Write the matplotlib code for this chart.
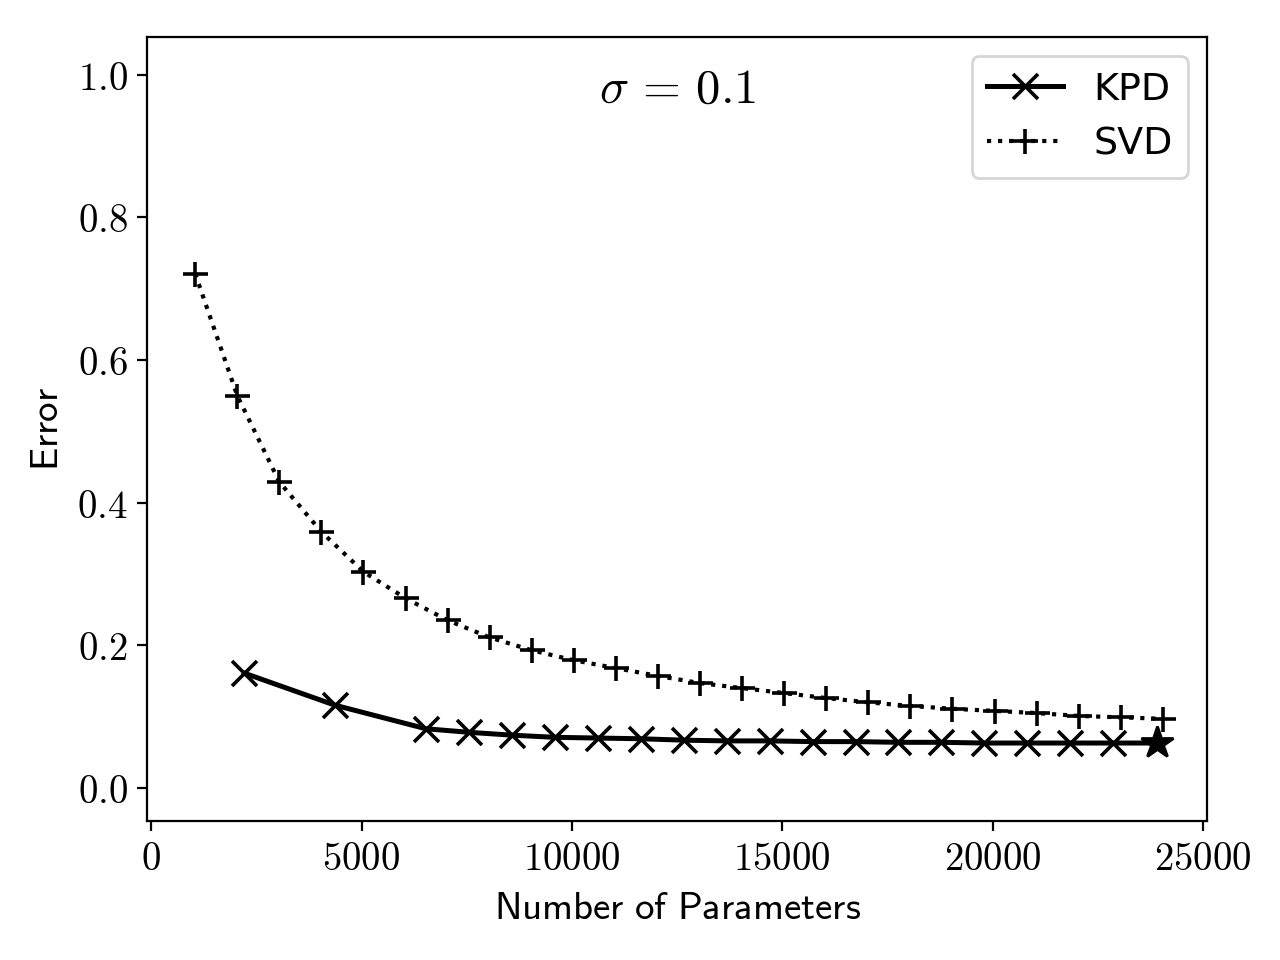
import numpy as np
import matplotlib
matplotlib.use("Agg")
import matplotlib.pyplot as plt

plt.rcParams['mathtext.fontset'] = 'cm'

# KPD: error vs number of parameters (last point gets the star)
kpd_params = [2210, 4370, 6530, 7560, 8580, 9600, 10620, 11640, 12660, 13680,
              14700, 15720, 16740, 17760, 18780, 19800, 20820, 21840, 22860, 23900]
kpd_error = [0.161, 0.116, 0.083, 0.078, 0.074, 0.071, 0.070, 0.069, 0.067, 0.066,
             0.066, 0.065, 0.065, 0.064, 0.064, 0.063, 0.063, 0.063, 0.063, 0.063]

# SVD
svd_params = [1045, 2045, 3045, 4045, 5045, 6045, 7045, 8045, 9045, 10045,
              11045, 12045, 13045, 14045, 15045, 16045, 17045, 18045, 19045, 20045,
              21045, 22045, 23045, 24045]
svd_error = [0.721, 0.550, 0.429, 0.359, 0.303, 0.266, 0.235, 0.211, 0.193, 0.179,
             0.168, 0.157, 0.147, 0.140, 0.133, 0.126, 0.120, 0.115, 0.111, 0.108,
             0.105, 0.101, 0.099, 0.097]

x_ticks = [0, 5000, 10000, 15000, 20000, 25000]
y_ticks = [0.0, 0.2, 0.4, 0.6, 0.8, 1.0]

fig, ax = plt.subplots(figsize=(6.4, 4.8), dpi=200)
fig.subplots_adjust(left=0.115, right=0.943, top=0.961, bottom=0.145)

ax.plot(kpd_params, kpd_error, color='black', linestyle='-', linewidth=1.8,
        marker='x', markersize=9, markeredgewidth=1.3,
        markevery=list(range(len(kpd_params) - 1)), label='KPD')
ax.plot(kpd_params[-1], kpd_error[-1], color='black', marker='*', markersize=12,
        linestyle='none')
ax.plot(svd_params, svd_error, color='black', linestyle=':', linewidth=1.5,
        marker='+', markersize=9, markeredgewidth=1.3, label='SVD')

ax.set_xlim(-95, 25095)
ax.set_ylim(-0.046, 1.052)
ax.set_xticks(x_ticks)
ax.set_xticklabels([r'$%d$' % t for t in x_ticks], fontsize=14)
ax.set_yticks(y_ticks)
ax.set_yticklabels([r'$%.1f$' % t for t in y_ticks], fontsize=14)

ax.set_xlabel(r'$\mathsf{Number\ of\ Parameters}$', fontsize=14)
ax.set_ylabel(r'$\mathsf{Error}$', fontsize=14)

ax.text(0.5, 0.935, r'$\sigma \,=\, 0.1$', transform=ax.transAxes,
        ha='center', va='center', fontsize=17.5)

ax.legend(loc='upper right', fontsize=13.7)

fig.savefig('out.png', dpi=200)
